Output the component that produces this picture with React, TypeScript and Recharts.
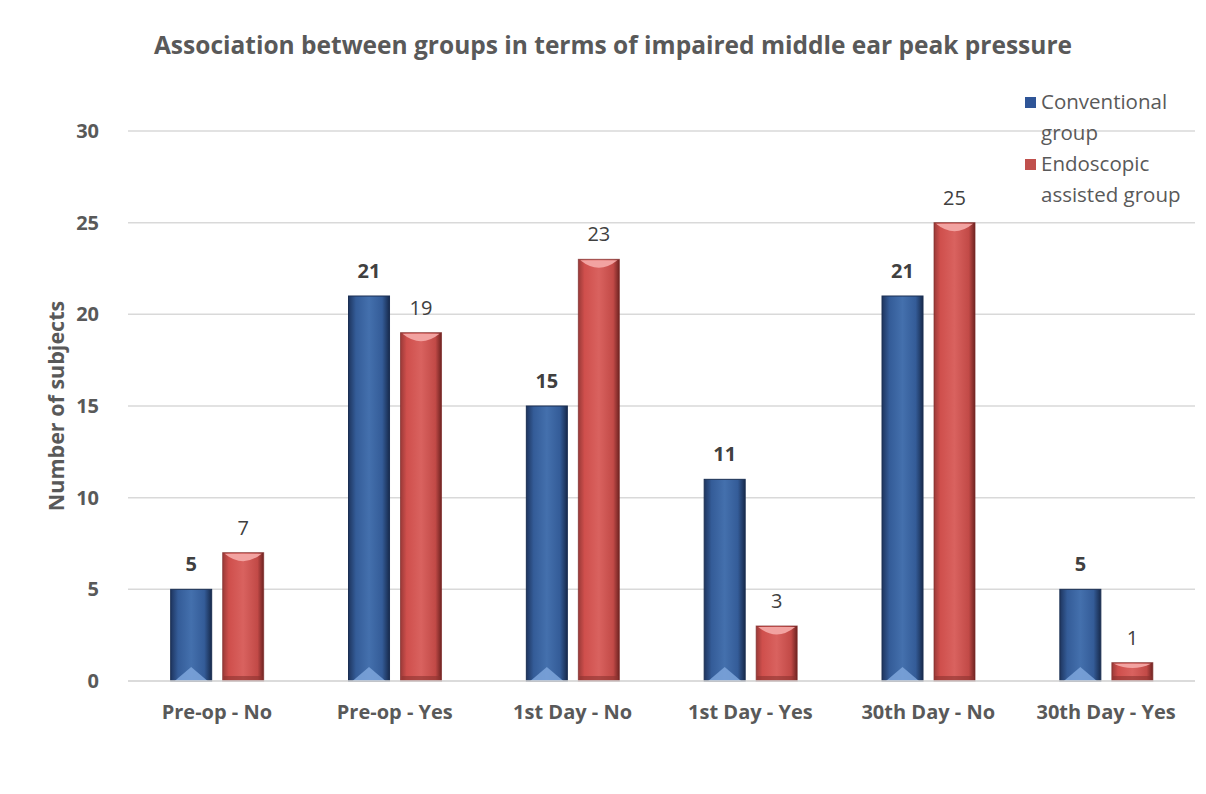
import { BarChart, Bar, XAxis, YAxis, CartesianGrid, LabelList } from 'recharts';

const categories = ['Pre-op - No', 'Pre-op - Yes', '1st Day - No', '1st Day - Yes', '30th Day - No', '30th Day - Yes'];
const conventional = [5, 21, 15, 11, 21, 5];
const endoscopic = [7, 19, 23, 3, 25, 1];
const yTicks = [0, 5, 10, 15, 20, 25, 30];

const chartData = categories.map((name, i) => ({
  name,
  conventional: conventional[i],
  endoscopic: endoscopic[i],
}));

const FONT = '"Open Sans", sans-serif';
const TEXT = '#595959';

// bevelled column look: dark edges, lighter centre, highlight at the base (blue) or cap (red)
const BlueBar = (props: any) => {
  const { x, y, width, height } = props;
  if (!height || height <= 0) return null;
  const tri = Math.min(14, height / 2);
  return (
    <g>
      <rect x={x} y={y} width={width} height={height} fill="url(#blueFill)" />
      <rect x={x} y={y} width={width} height={height} fill="none" stroke="#1b2f52" strokeWidth={1} />
      <path
        d={`M${x + 4},${y + height} L${x + width / 2},${y + height - tri} L${x + width - 4},${y + height} Z`}
        fill="#7ea6dc"
        opacity={0.85}
      />
    </g>
  );
};

const RedBar = (props: any) => {
  const { x, y, width, height } = props;
  if (!height || height <= 0) return null;
  const cap = Math.min(10, height / 3);
  const base = Math.min(5, height / 3);
  return (
    <g>
      <rect x={x} y={y} width={width} height={height} fill="url(#redFill)" />
      <rect x={x} y={y} width={width} height={height} fill="none" stroke="#7d2a28" strokeWidth={1} opacity={0.7} />
      <path
        d={`M${x + 2},${y + 1} L${x + width - 2},${y + 1} Q${x + width / 2},${y + cap * 1.6} ${x + 2},${y + 1} Z`}
        fill="#f2a3a1"
      />
      <rect x={x + 1} y={y + height - base} width={width - 2} height={base} fill="#8e3331" opacity={0.6} />
    </g>
  );
};

const legendItems = [
  { color: '#2f5597', lines: ['Conventional', 'group'] },
  { color: '#c0504d', lines: ['Endoscopic', 'assisted group'] },
];

const ChartLegend = () => (
  <div
    style={{
      position: 'absolute',
      top: 81,
      left: 1017,
      fontFamily: FONT,
      fontSize: 20.5,
      color: TEXT,
      lineHeight: '31px',
    }}
  >
    {legendItems.map((it) => (
      <div key={it.lines[0]} style={{ display: 'flex', alignItems: 'flex-start' }}>
        <span
          style={{
            display: 'inline-block',
            width: 11,
            height: 11,
            marginTop: 11,
            marginRight: 5,
            background: it.color,
          }}
        />
        <div>
          {it.lines.map((l) => (
            <div key={l}>{l}</div>
          ))}
        </div>
      </div>
    ))}
  </div>
);

export default function App() {
  return (
    <div
      style={{
        position: 'relative',
        width: 1192,
        height: 790,
        marginTop: -4,
        marginLeft: -1,
        border: '1px solid #d0d0d0',
        borderBottom: 'none',
        background: '#fff',
        boxSizing: 'border-box',
      }}
    >
      <div
        style={{
          position: 'absolute',
          top: 23,
          left: 0,
          width: '100%',
          textAlign: 'center',
          fontFamily: FONT,
          fontWeight: 700,
          fontSize: 24.5,
          color: TEXT,
          paddingLeft: 20,
          boxSizing: 'border-box',
          whiteSpace: 'nowrap',
        }}
      >
        Association between groups in terms of impaired middle ear peak pressure
      </div>
      <BarChart
        width={1190}
        height={789}
        data={chartData}
        margin={{ top: 126, right: 3, bottom: 83, left: 30 }}
        barCategoryGap="24%"
        barGap={11}
        style={{ fontFamily: FONT }}
      >
        <defs>
          <linearGradient id="blueFill" x1="0" y1="0" x2="1" y2="0">
            <stop offset="0%" stopColor="#1e355f" />
            <stop offset="18%" stopColor="#345c98" />
            <stop offset="50%" stopColor="#4470ad" />
            <stop offset="82%" stopColor="#345c98" />
            <stop offset="100%" stopColor="#172a4c" />
          </linearGradient>
          <linearGradient id="redFill" x1="0" y1="0" x2="1" y2="0">
            <stop offset="0%" stopColor="#9a3a38" />
            <stop offset="15%" stopColor="#cf4f4c" />
            <stop offset="50%" stopColor="#d9625f" />
            <stop offset="85%" stopColor="#c24a47" />
            <stop offset="100%" stopColor="#6e2321" />
          </linearGradient>
        </defs>
        <CartesianGrid vertical={false} stroke="#d9d9d9" strokeWidth={1.5} />
        <XAxis
          dataKey="name"
          axisLine={{ stroke: '#d9d9d9', strokeWidth: 1.5 }}
          tickLine={false}
          tick={{ fill: TEXT, fontSize: 20, fontWeight: 700 }}
          tickMargin={18}
        />
        <YAxis
          domain={[0, 30]}
          ticks={yTicks}
          axisLine={false}
          tickLine={false}
          tick={{ fill: TEXT, fontSize: 20, fontWeight: 700 }}
          tickMargin={23}
          width={90}
          label={{
            value: 'Number of subjects',
            angle: -90,
            position: 'insideLeft',
            dx: 13,
            style: { textAnchor: 'middle', fill: TEXT, fontSize: 21.5, fontWeight: 700 },
          }}
        />
        <Bar dataKey="conventional" name="Conventional group" shape={<BlueBar />} isAnimationActive={false}>
          <LabelList dataKey="conventional" position="top" offset={18} fill="#404040" fontSize={20} fontWeight={700} />
        </Bar>
        <Bar dataKey="endoscopic" name="Endoscopic assisted group" shape={<RedBar />} isAnimationActive={false}>
          <LabelList dataKey="endoscopic" position="top" offset={18} fill="#404040" fontSize={20} />
        </Bar>
      </BarChart>
      <ChartLegend />
    </div>
  );
}
